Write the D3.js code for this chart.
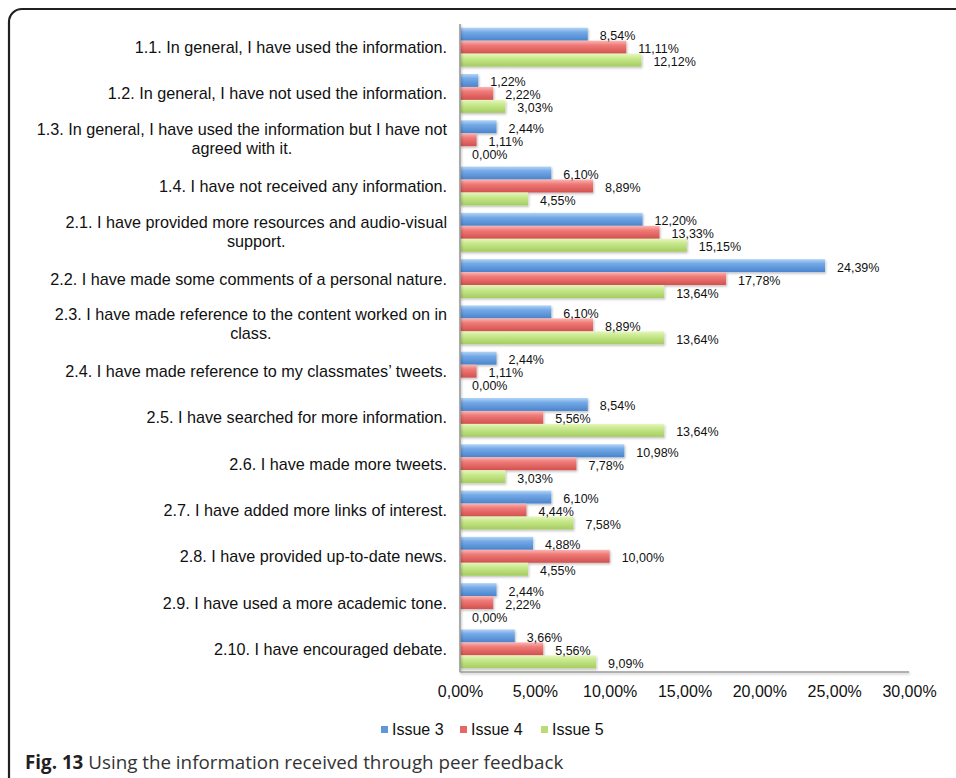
<!DOCTYPE html>
<html>
<head>
<meta charset="utf-8">
<script src="https://cdn.jsdelivr.net/npm/d3@7/dist/d3.min.js"></script>
<style>
  html, body { margin: 0; padding: 0; background: #fff; }
  svg { display: block; }
</style>
</head>
<body>
<svg id="chart" width="956" height="778"></svg>
<script>
// Survey items (one line per array entry; multi-line items wrap at the "|")
const categories = [
  "1.1. In general, I have used the information.",
  "1.2. In general, I have not used the information.",
  "1.3. In general, I have used the information but I have not|agreed with it.",
  "1.4. I have not received any information.",
  "2.1. I have provided more resources and audio-visual|support.",
  "2.2. I have made some comments of a personal nature.",
  "2.3. I have made reference to the content worked on in|class.",
  "2.4. I have made reference to my classmates’ tweets.",
  "2.5. I have searched for more information.",
  "2.6. I have made more tweets.",
  "2.7. I have added more links of interest.",
  "2.8. I have provided up-to-date news.",
  "2.9. I have used a more academic tone.",
  "2.10. I have encouraged debate."
];

const seriesNames = ["Issue 3", "Issue 4", "Issue 5"];
const issue3 = [8.54, 1.22, 2.44, 6.10, 12.20, 24.39, 6.10, 2.44, 8.54, 10.98, 6.10, 4.88, 2.44, 3.66];
const issue4 = [11.11, 2.22, 1.11, 8.89, 13.33, 17.78, 8.89, 1.11, 5.56, 7.78, 4.44, 10.00, 2.22, 5.56];
const issue5 = [12.12, 3.03, 0.00, 4.55, 15.15, 13.64, 13.64, 0.00, 13.64, 3.03, 7.58, 4.55, 0.00, 9.09];
const xTicks = [0, 5, 10, 15, 20, 25, 30];

const seriesValues = [issue3, issue4, issue5];
const fmt = v => v.toFixed(2).replace(".", ",") + "%";

const svg = d3.select("#chart");
const defs = svg.append("defs");

// Glossy bar fills: light top edge, saturated body, darker bottom edge
const palettes = [
  ["#b3d4f7", "#74a9e6", "#4a84cd"],
  ["#fab7b5", "#ef7a77", "#d2514f"],
  ["#e6f7bd", "#c8e98d", "#a6cc5f"]
];
palettes.forEach((p, i) => {
  const g = defs.append("linearGradient")
    .attr("id", "grad" + i).attr("x1", 0).attr("y1", 0).attr("x2", 0).attr("y2", 1);
  g.append("stop").attr("offset", "0%").attr("stop-color", p[0]);
  g.append("stop").attr("offset", "35%").attr("stop-color", p[1]);
  g.append("stop").attr("offset", "100%").attr("stop-color", p[2]);
});
const legendColors = ["#5e98db", "#e46866", "#b9dc77"];

const shadow = defs.append("filter").attr("id", "shadow")
  .attr("x", "-5%").attr("y", "-20%").attr("width", "115%").attr("height", "160%");
shadow.append("feDropShadow").attr("dx", 1).attr("dy", 1.5).attr("stdDeviation", 1)
  .attr("flood-color", "#000").attr("flood-opacity", 0.25);

// Figure frame: left and top rule with a rounded corner
svg.append("path")
  .attr("d", "M9,778 L9,22 A13,13 0 0 1 22,9 L956,9")
  .attr("fill", "none").attr("stroke", "#231f20").attr("stroke-width", 2.2);

const x = d3.scaleLinear().domain([0, 30]).range([460, 909]);
const y = d3.scaleBand().domain(d3.range(categories.length))
  .range([24, 672]).paddingInner(0.16).paddingOuter(0.08);
const ySub = d3.scaleBand().domain(d3.range(seriesNames.length)).range([0, y.bandwidth()]);

const font = "'Liberation Sans', Arial, Helvetica, sans-serif";

// Bars
const groups = svg.append("g").selectAll("g").data(categories).join("g")
  .attr("transform", (d, i) => `translate(0,${y(i)})`);

groups.each(function (d, ci) {
  const g = d3.select(this);
  seriesValues.forEach((vals, si) => {
    const v = vals[ci];
    if (v > 0) {
      g.append("rect")
        .attr("x", x(0)).attr("y", ySub(si))
        .attr("width", x(v) - x(0)).attr("height", ySub.bandwidth())
        .attr("fill", `url(#grad${si})`)
        .attr("filter", "url(#shadow)");
    }
  });
  seriesValues.forEach((vals, si) => {
    const v = vals[ci];
    g.append("text")
      .attr("x", x(v) + 12)
      .attr("y", ySub(si) + ySub.bandwidth() / 2 + 6)
      .attr("font-family", font).attr("font-size", 12.5).attr("fill", "#111")
      .text(fmt(v));
  });
});

// Axis lines (left and bottom), no tick marks
const axisG = svg.append("g").attr("filter", "url(#shadow)");
axisG.append("line").attr("x1", x(0)).attr("x2", x(0)).attr("y1", 24).attr("y2", 672)
  .attr("stroke", "#9a9a9a").attr("stroke-width", 1.6);
axisG.append("line").attr("x1", x(0)).attr("x2", x(30)).attr("y1", 672).attr("y2", 672)
  .attr("stroke", "#9a9a9a").attr("stroke-width", 1.6);

const xAxis = d3.axisBottom(x).tickValues(xTicks).tickSize(0).tickPadding(0)
  .tickFormat(fmt);
const xg = svg.append("g").attr("transform", "translate(0,697)").call(xAxis);
xg.select(".domain").remove();
xg.selectAll("text").attr("font-family", font).attr("font-size", 16)
  .attr("fill", "#111").attr("dy", 0).attr("dominant-baseline", "auto");

// Category labels: right-aligned block, lines centred within it
const labelRight = 447;
categories.forEach((c, i) => {
  const lines = c.split("|");
  const cy = y(i) + y.bandwidth() / 2;
  const t = svg.append("text").attr("font-family", font).attr("font-size", 16.2)
    .attr("fill", "#111").attr("text-anchor", "middle");
  const spans = lines.map((ln, k) => t.append("tspan").text(ln));
  const widths = spans.map(s => s.node().getComputedTextLength());
  const w = d3.max(widths);
  const cx = labelRight - w / 2;
  const first = cy + 6 - (lines.length - 1) * 19 / 2 - (lines.length > 1 ? 1 : 0);
  spans.forEach((s, k) => s.attr("x", cx).attr("y", first + k * 19));
});

// Legend
const legendItems = [
  { x: 381, label: seriesNames[0] },
  { x: 460, label: seriesNames[1] },
  { x: 541, label: seriesNames[2] }
];
const lg = svg.append("g");
legendItems.forEach((it, i) => {
  lg.append("rect").attr("x", it.x).attr("y", 726).attr("width", 7).attr("height", 7)
    .attr("fill", legendColors[i]);
  lg.append("text").attr("x", it.x + 11).attr("y", 735)
    .attr("font-family", font).attr("font-size", 16).attr("fill", "#111").text(it.label);
});

// Caption
const cap = svg.append("text").attr("x", 25).attr("y", 769)
  .attr("font-family", "'Open Sans', 'Noto Sans', sans-serif").attr("font-size", 18.8);
cap.append("tspan").attr("font-weight", "bold").attr("fill", "#231f20").text("Fig. 13");
cap.append("tspan").attr("fill", "#333").text(" Using the information received through peer feedback");
</script>
</body>
</html>
